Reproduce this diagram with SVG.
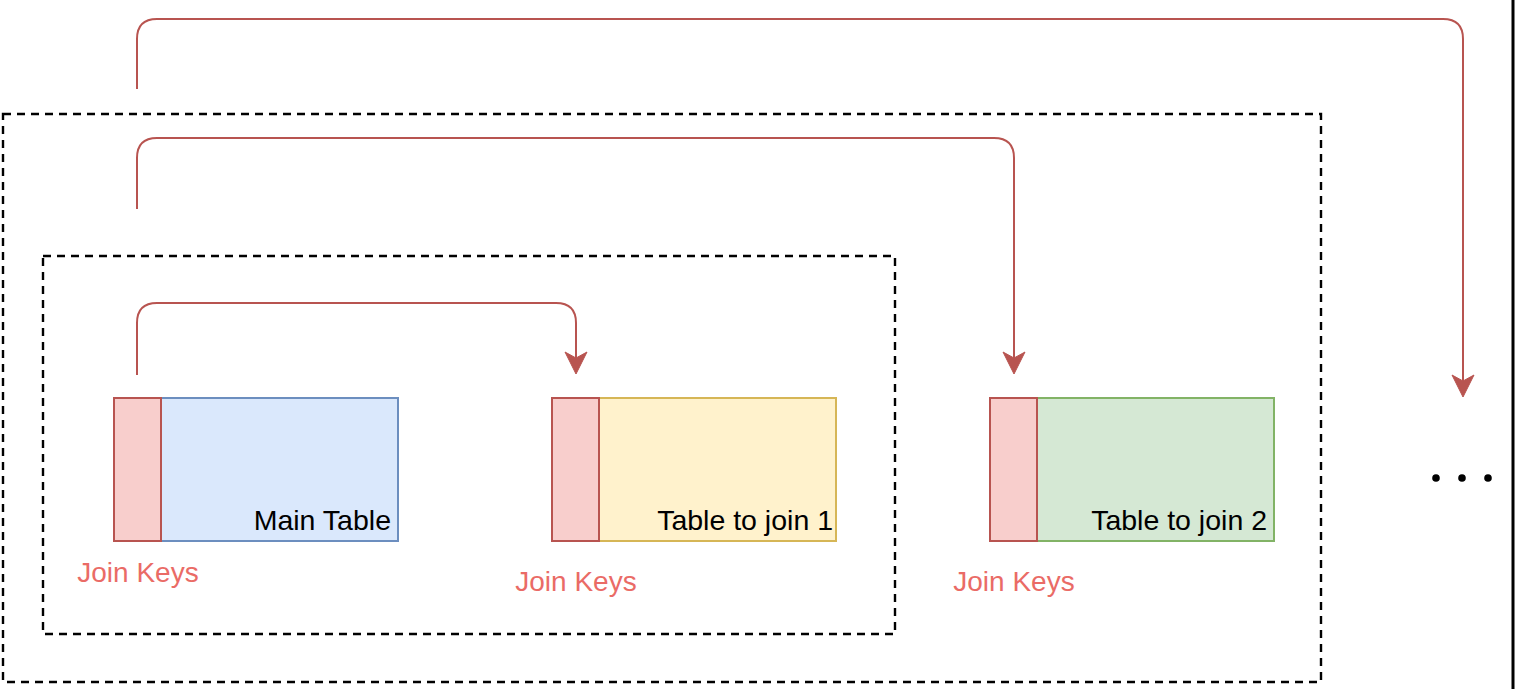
<svg xmlns="http://www.w3.org/2000/svg" width="1516" height="689" viewBox="0 0 1516 689">
<style>
.frame{fill:none;stroke:#000;stroke-width:2.4;stroke-dasharray:8 6}
.key{fill:#f8cecc;stroke:#b85450;stroke-width:2}
.conn{fill:none;stroke:#b85450;stroke-width:2}
.lbl{font-family:"Liberation Sans",Arial,sans-serif;font-size:28.5px;fill:#000;text-anchor:end}
.jk{font-family:"Liberation Sans",Arial,sans-serif;font-size:28px;fill:#ea6b66;text-anchor:middle}
.head{fill:#b85450;stroke:#b85450;stroke-width:1}
</style>
<rect width="1516" height="689" fill="#fff"/>
<g id="outer-frame"><rect class="frame" x="3" y="114" width="1318" height="568"/></g>
<g id="inner-frame"><rect class="frame" x="43" y="256" width="852" height="378"/></g>
<g id="main-table">
<rect x="161" y="398" width="237" height="143" fill="#dae8fc" stroke="#6c8ebf" stroke-width="2"/>
<rect class="key" x="114" y="398" width="47" height="143"/>
<text class="lbl" x="391" y="530">Main Table</text>
<text class="jk" x="138" y="582">Join Keys</text>
</g>
<g id="table-1">
<rect x="599" y="398" width="237" height="143" fill="#fff2cc" stroke="#d6b656" stroke-width="2"/>
<rect class="key" x="552" y="398" width="47" height="143"/>
<text class="lbl" x="833" y="530">Table to join 1</text>
<text class="jk" x="576" y="591">Join Keys</text>
</g>
<g id="table-2">
<rect x="1037" y="398" width="237" height="143" fill="#d5e8d4" stroke="#82b366" stroke-width="2"/>
<rect class="key" x="990" y="398" width="47" height="143"/>
<text class="lbl" x="1267" y="530">Table to join 2</text>
<text class="jk" x="1014" y="591">Join Keys</text>
</g>
<g id="more">
<circle cx="1436" cy="478" r="3.8" fill="#000"/>
<circle cx="1462" cy="478" r="3.8" fill="#000"/>
<circle cx="1488" cy="478" r="3.8" fill="#000"/>
</g>
<g id="connectors">
<path class="conn" d="M137 375 V323 Q137 303 157 303 H556 Q576 303 576 323 V358"/>
<path class="head" d="M576 374 L565 352 L576 358 L587 352 Z"/>
<path class="conn" d="M137 209 V158 Q137 138 157 138 H994 Q1014 138 1014 158 V358"/>
<path class="head" d="M1014 374 L1003 352 L1014 358 L1025 352 Z"/>
<path class="conn" d="M137 89 V39 Q137 19 157 19 H1443 Q1463 19 1463 39 V381"/>
<path class="head" d="M1463 397 L1452 375 L1463 381 L1474 375 Z"/>
</g>
<line x1="1513" y1="0" x2="1513" y2="689" stroke="#000" stroke-width="3"/>
</svg>
